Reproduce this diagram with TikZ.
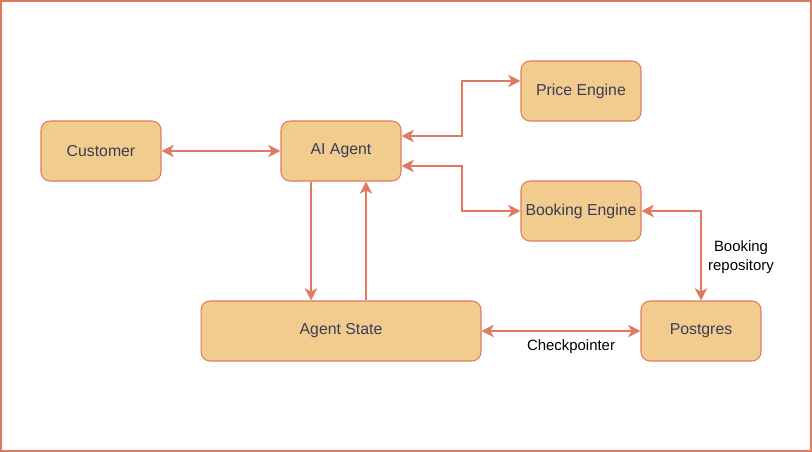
\documentclass[tikz,border=0pt]{standalone}
\usepackage{fontspec}
\setmainfont{Liberation Sans}
\usetikzlibrary{arrows.meta}
\definecolor{boxfill}{HTML}{F2CC8F}
\definecolor{boxline}{HTML}{E07A5F}
\definecolor{boxtext}{HTML}{393C56}
\begin{document}
\begin{tikzpicture}[x=0.02cm,y=-0.02cm,
    block/.style={draw=boxline,fill=boxfill,text=boxtext,rounded corners=0.18cm,
      minimum width=2.4cm,minimum height=1.2cm,inner xsep=1pt,
      font=\fontsize{9}{10}\selectfont,line width=0.6pt},
    wide/.style={block,minimum width=5.6cm},
    link/.style={draw=boxline,line width=1.15pt,
      {Stealth[length=7pt,width=7pt,inset=2pt]}-{Stealth[length=7pt,width=7pt,inset=2pt]}},
    onelink/.style={link,-{Stealth[length=7pt,width=7pt,inset=2pt]}},
    tag/.style={font=\fontsize{8.5}{10.8}\selectfont,align=center,text=black}]
  \useasboundingbox (0,0) rectangle (812,452);
  \draw[boxline,line width=1.2pt] (1,1) rectangle (811,451);
  \draw
    (101,151) node[block] (customer){Customer}
    (341,151) node[block] (agent){AI Agent}
    (581,91) node[block] (price){Price Engine}
    (581,211) node[block] (booking){Booking Engine}
    (341,331) node[wide] (state){Agent State}
    (701,331) node[block] (postgres){Postgres};
  \begin{scope}
    \draw[link] (customer) to (agent);
    \draw[link] ([yshift=0.3cm]agent.east) -- ++(60,0) |- ([yshift=0.2cm]price.west);
    \draw[link] ([yshift=-0.3cm]agent.east) -- ++(60,0) |- (booking.west);
    \draw[onelink] ([xshift=-0.6cm]agent.south) to ([xshift=-0.6cm]state.north);
    \draw[onelink] ([xshift=0.5cm]state.north) to ([xshift=0.5cm]agent.south);
    \draw[link] (booking.east) -| (postgres.north);
    \draw[link] (state.east) to (postgres.west);
  \end{scope}
  \node[tag] (repolabel) at (741,257) {Booking\\repository};
  \node[tag] (cplabel) at (571,347) {Checkpointer};
\end{tikzpicture}
\end{document}
